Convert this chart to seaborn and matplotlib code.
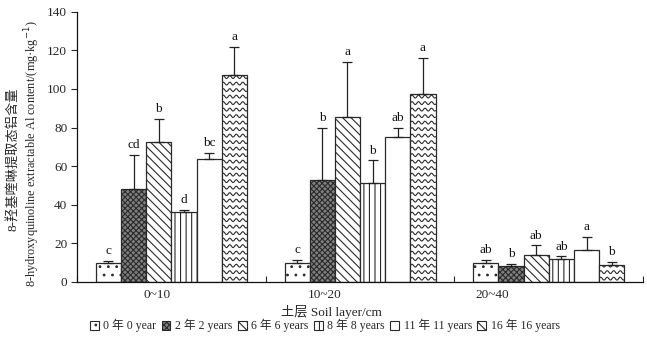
import numpy as np
import pandas as pd
import matplotlib
matplotlib.use("Agg")
import matplotlib.pyplot as plt
from matplotlib.patches import Patch
import seaborn as sns

layers = ["0~10", "10~20", "20~40"]
years = ["0 年 0 year", "2 年 2 years", "6 年 6 years", "8 年 8 years", "11 年 11 years", "16 年 16 years"]

val_0 = [10.0, 9.7, 10.0]
val_2 = [48.0, 52.8, 8.0]
val_6 = [72.5, 85.6, 13.7]
val_8 = [36.3, 51.3, 11.7]
val_11 = [63.7, 75.0, 16.6]
val_16 = [107.0, 97.5, 8.7]

err_0 = [0.8, 1.8, 1.3]
err_2 = [18.0, 26.8, 1.5]
err_6 = [12.0, 28.4, 5.2]
err_8 = [1.2, 11.7, 1.5]
err_11 = [3.3, 5.0, 6.9]
err_16 = [15.0, 18.5, 1.8]

let_0 = ["c", "c", "ab"]
let_2 = ["cd", "b", "b"]
let_6 = ["b", "a", "ab"]
let_8 = ["d", "b", "ab"]
let_11 = ["bc", "ab", "a"]
let_16 = ["a", "a", "b"]

vals = [val_0, val_2, val_6, val_8, val_11, val_16]
errs = [err_0, err_2, err_6, err_8, err_11, err_16]
lets = [let_0, let_2, let_6, let_8, let_11, let_16]

rows = []
for yi, y in enumerate(years):
    for li, l in enumerate(layers):
        rows.append({"layer": l, "year": y, "value": vals[yi][li]})
df = pd.DataFrame(rows)

sns.set_style("ticks")
plt.rcParams["font.family"] = ["Liberation Serif", "Noto Sans CJK SC"]
plt.rcParams["hatch.linewidth"] = 0.8
plt.rcParams["axes.unicode_minus"] = False

fig = plt.figure(figsize=(6.47, 3.38), dpi=100)
ax = fig.add_axes([0.119, 0.166, 0.875, 0.799])

sns.barplot(data=df, x="layer", y="value", hue="year", order=layers,
            hue_order=years, width=0.8, errorbar=None, ax=ax, legend=False,
            saturation=1)

bar_conts = list(ax.containers)

hatches = ["..", "xxxxxx", "\\\\\\\\", "|||", "", None]
faces = ["white", "#808080", "white", "white", "white", "white"]
edge = "#2a2a2a"

for ci, cont in enumerate(bar_conts):
    for pi, p in enumerate(cont.patches):
        p.set_facecolor(faces[ci])
        p.set_edgecolor(edge)
        p.set_linewidth(0.9)
        if hatches[ci]:
            p.set_hatch(hatches[ci])
        x = p.get_x() + p.get_width() / 2
        top = p.get_height()
        e = errs[ci][pi]
        ax.errorbar(x, top, yerr=[[0], [e]], fmt="none", ecolor="#222222",
                    elinewidth=0.9, capsize=3.6, capthick=0.9, zorder=3)
        ax.text(x, top + e + 2.0, lets[ci][pi], ha="center", va="bottom",
                fontsize=9.5, color="#111111")

# wavy pattern for 16 years
px_per_x = 566 / 3.0
px_per_y = 270 / 140.0
lam = 6.5 / px_per_x
amp = 1.4 / px_per_y
gap = 6.5 / px_per_y
for p in bar_conts[5].patches:
    x0, w, h = p.get_x(), p.get_width(), p.get_height()
    xs = np.linspace(x0, x0 + w, 120)
    base = gap / 2
    while base < h + gap:
        ys = base + amp * np.sin(2 * np.pi * (xs - x0) / lam)
        ln, = ax.plot(xs, ys, color=edge, lw=0.8, zorder=p.get_zorder() + 0.1)
        ln.set_clip_path(p)
        base += gap

ax.set_ylim(0, 140)
ax.set_xlim(-0.5, 2.5)
ax.set_yticks(range(0, 141, 20))
# category labels sit slightly left of group centres in the reference
label_shift = [-0.075, -0.19, -0.30]
ax.set_xticks([i + s for i, s in enumerate(label_shift)])
ax.set_xticklabels(layers)
ax.tick_params(axis="x", which="major", length=0, pad=5, labelsize=9.5)
ax.set_xticks([-0.5, 0.5, 1.5, 2.5], minor=True)
ax.tick_params(axis="x", which="minor", direction="in", length=4, width=0.8)
ax.tick_params(axis="y", direction="out", length=4, width=0.8, labelsize=9.5, pad=3)
for s in ["top", "right"]:
    ax.spines[s].set_visible(False)
for s in ["left", "bottom"]:
    ax.spines[s].set_linewidth(0.9)
    ax.spines[s].set_color("#111111")

ax.set_xlabel("")
ax.set_ylabel("")
fig.text(0.513, 0.077, "土层 Soil layer/cm", ha="center", va="center", fontsize=9.5)
fig.text(0.021, 0.53, "8-羟基喹啉提取态铝含量", rotation=90, ha="center",
         va="center", fontsize=9.5)
fig.text(0.049, 0.545, "8-hydroxyquinoline extractable Al content/(mg·kg$^{-1}$)",
         rotation=90, ha="center", va="center", fontsize=8.8)

leg_hatch = ["..", "xxxxxx", "\\\\\\\\", "|||", "", "\\\\\\"]
leg_face = ["white", "#808080", "white", "white", "white", "white"]
handles = [Patch(facecolor=f, edgecolor=edge, hatch=h, linewidth=0.8)
           for h, f in zip(leg_hatch, leg_face)]
fig.legend(handles, years, loc="center", bbox_to_anchor=(0.502, 0.036),
           ncol=6, frameon=False, fontsize=8.5, handlelength=0.75,
           handleheight=0.75, handletextpad=0.4, columnspacing=0.45,
           borderpad=0)

fig.savefig("out.png", dpi=100)
